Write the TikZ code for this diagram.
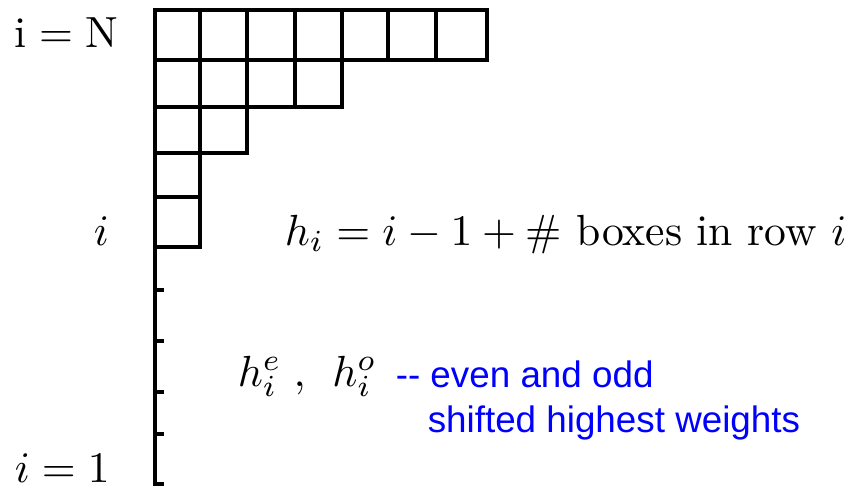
\RequirePackage{fix-cm}
\documentclass[tikz,border=0pt]{standalone}
\usepackage{fontspec}
\newfontfamily\arialfont{Liberation Sans}
\definecolor{textblue}{RGB}{0,0,255}
\begin{document}
\begin{tikzpicture}[x=0.25pt,y=-0.25pt,
  yline/.style={line width=1.15pt, line cap=rect},
  lbl/.style={inner sep=0pt, anchor=base west, font=\fontsize{10.9}{13}\selectfont},
  bluelbl/.style={inner sep=0pt, anchor=base west, text=textblue, font=\arialfont\fontsize{9.2}{11}\selectfont}]
\useasboundingbox (0,0) rectangle (851,486);
% Young diagram
\draw[yline] (155,10) rectangle (487,60);
\foreach \x in {200,247,295,342,388,436} \draw[yline] (\x,10) -- (\x,60);
\draw[yline] (155,60) rectangle (342,107);
\foreach \x in {200,247,295} \draw[yline] (\x,60) -- (\x,107);
\draw[yline] (155,107) rectangle (247,153);
\draw[yline] (200,107) -- (200,153);
\draw[yline] (155,153) rectangle (200,197);
\draw[yline] (155,197) rectangle (200,247);
% axis with ticks
\draw[yline] (155,247) -- (155,484);
\foreach \y in {290,341,392,434,484} \draw[yline] (155,\y) -- (162,\y);
% labels
\node[lbl] (iN) at (14,47) {$\mathrm{i}=\mathrm{N}$};
\node[lbl] (imid) at (93,245) {$i$};
\node[lbl] (ione) at (14,482) {$i=1$};
\node[lbl] (hdef) at (284,245) {$h_i=i-1+\#$ boxes in row $i$};
\node[lbl] (heo) at (237,386) {$h_i^e\;,\;\,h_i^o$};
\node[bluelbl] (blue1) at (395,387) {-- even and odd};
\node[bluelbl] (blue2) at (427,432) {shifted highest weights};
\end{tikzpicture}
\end{document}
